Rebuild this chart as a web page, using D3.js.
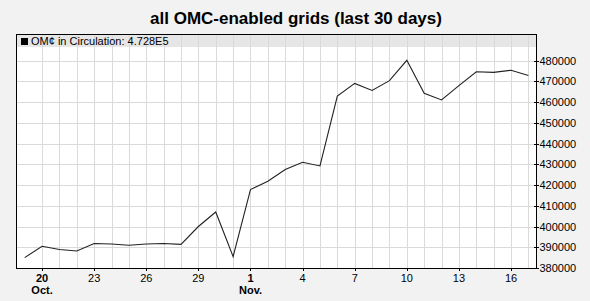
<!doctype html>
<html>
<head>
  <title>OMC grids</title>
  <style>
    body { margin: 0; background: #f2f2f2; }
    svg { display: block; font-family: "Liberation Sans", Arial, sans-serif; }
  </style>
</head>
<body>
  <svg></svg>
  <script src="https://cdnjs.cloudflare.com/ajax/libs/d3/7.8.5/d3.min.js"></script>
  <script>
  // daily values, Oct 19 .. Nov 17
  var startDay = [2012, 9, 19];
  var values = [
    385000, 390500, 388900, 388200, 391800, 391600, 391000, 391600, 391800, 391400,
    400000, 407000, 385500, 417800, 421800, 427500, 431000, 429200, 462900, 469000,
    465600, 470300, 480100, 464200, 461000, 467900, 474600, 474300, 475300, 472800
  ];
  var yTicks = [380000, 390000, 400000, 410000, 420000, 430000, 440000, 450000, 460000, 470000, 480000];
  var title = "all OMC-enabled grids (last 30 days)";
  var legendLabel = "OM\u00a2 in Circulation: 4.728E5";

  var width = 590, height = 301;
  var plot = { left: 16, top: 34, right: 536, bottom: 268 };

  var data = values.map(function(v, i) {
    return { date: new Date(startDay[0], startDay[1], startDay[2] + i), value: v };
  });

  var svg = d3.select("svg").attr("width", width).attr("height", height);

  var x = d3.scaleTime()
    .domain([new Date(2012, 9, 18, 12), new Date(2012, 10, 17, 10, 30)])
    .range([plot.left, plot.right]);

  var y = d3.scaleLinear()
    .domain([380000, 492800])
    .range([plot.bottom, plot.top]);

  svg.append("text")
    .attr("x", 296).attr("y", 24)
    .attr("text-anchor", "middle")
    .style("font-size", "17px").style("font-weight", "bold")
    .text(title);

  svg.append("rect")
    .attr("x", plot.left).attr("y", plot.top)
    .attr("width", plot.right - plot.left).attr("height", plot.bottom - plot.top)
    .attr("fill", "white");

  // legend band
  svg.append("rect")
    .attr("x", plot.left).attr("y", plot.top)
    .attr("width", plot.right - plot.left).attr("height", 13)
    .attr("fill", "#e6e6e6");

  var days = d3.timeDay.range(new Date(2012, 9, 20), new Date(2012, 10, 18));

  svg.append("g").selectAll("line")
    .data(days).enter().append("line")
    .attr("x1", function(d) { return Math.round(x(d)) + 0.5; })
    .attr("x2", function(d) { return Math.round(x(d)) + 0.5; })
    .attr("y1", plot.top).attr("y2", plot.bottom)
    .attr("stroke", "#dadada");

  svg.append("g").selectAll("line")
    .data(yTicks.slice(1)).enter().append("line")
    .attr("x1", plot.left).attr("x2", plot.right)
    .attr("y1", function(d) { return Math.round(y(d)) + 0.5; })
    .attr("y2", function(d) { return Math.round(y(d)) + 0.5; })
    .attr("stroke", "#dadada");

  var line = d3.line()
    .x(function(d) { return x(d.date); })
    .y(function(d) { return y(d.value); });

  svg.append("path")
    .datum(data)
    .attr("d", line)
    .attr("fill", "none")
    .attr("stroke", "#222")
    .attr("stroke-width", 1.1);

  svg.append("rect")
    .attr("x", plot.left + 0.5).attr("y", plot.top + 0.5)
    .attr("width", plot.right - plot.left).attr("height", plot.bottom - plot.top)
    .attr("fill", "none").attr("stroke", "black");

  // legend
  svg.append("rect")
    .attr("x", 21).attr("y", 38).attr("width", 7).attr("height", 7)
    .attr("fill", "black");
  svg.append("text")
    .attr("x", 31).attr("y", 45)
    .style("font-size", "11px")
    .text(legendLabel);

  // y axis on the right
  var yAxis = svg.append("g");
  yAxis.selectAll("line")
    .data(yTicks).enter().append("line")
    .attr("x1", plot.right - 2).attr("x2", plot.right + 3)
    .attr("y1", function(d) { return Math.round(y(d)) + 0.5; })
    .attr("y2", function(d) { return Math.round(y(d)) + 0.5; })
    .attr("stroke", "black");
  yAxis.selectAll("text")
    .data(yTicks).enter().append("text")
    .attr("x", plot.right + 3.5)
    .attr("y", function(d) { return y(d) + 4; })
    .style("font-size", "11px")
    .text(function(d) { return d; });

  // x axis labels every 3 days
  var labelDays = days.filter(function(d, i) { return i % 3 === 0; });
  var xAxis = svg.append("g");
  xAxis.selectAll("line")
    .data(labelDays).enter().append("line")
    .attr("x1", function(d) { return Math.round(x(d)) + 0.5; })
    .attr("x2", function(d) { return Math.round(x(d)) + 0.5; })
    .attr("y1", plot.bottom).attr("y2", plot.bottom + 3)
    .attr("stroke", "black");
  var fmtDay = d3.timeFormat("%-d"), fmtMonth = d3.timeFormat("%b.");
  var isFirst = function(d, i) { return i === 0 || d.getDate() === 1; };
  xAxis.selectAll("text.day")
    .data(labelDays).enter().append("text")
    .attr("class", "day")
    .attr("x", function(d) { return x(d); })
    .attr("y", 282)
    .attr("text-anchor", "middle")
    .style("font-size", "11px")
    .style("font-weight", function(d, i) { return isFirst(d, i) ? "bold" : "normal"; })
    .text(fmtDay);
  xAxis.selectAll("text.month")
    .data(labelDays.filter(isFirst)).enter().append("text")
    .attr("class", "month")
    .attr("x", function(d) { return x(d); })
    .attr("y", 294)
    .attr("text-anchor", "middle")
    .style("font-size", "11px").style("font-weight", "bold")
    .text(fmtMonth);
  </script>
</body>
</html>
